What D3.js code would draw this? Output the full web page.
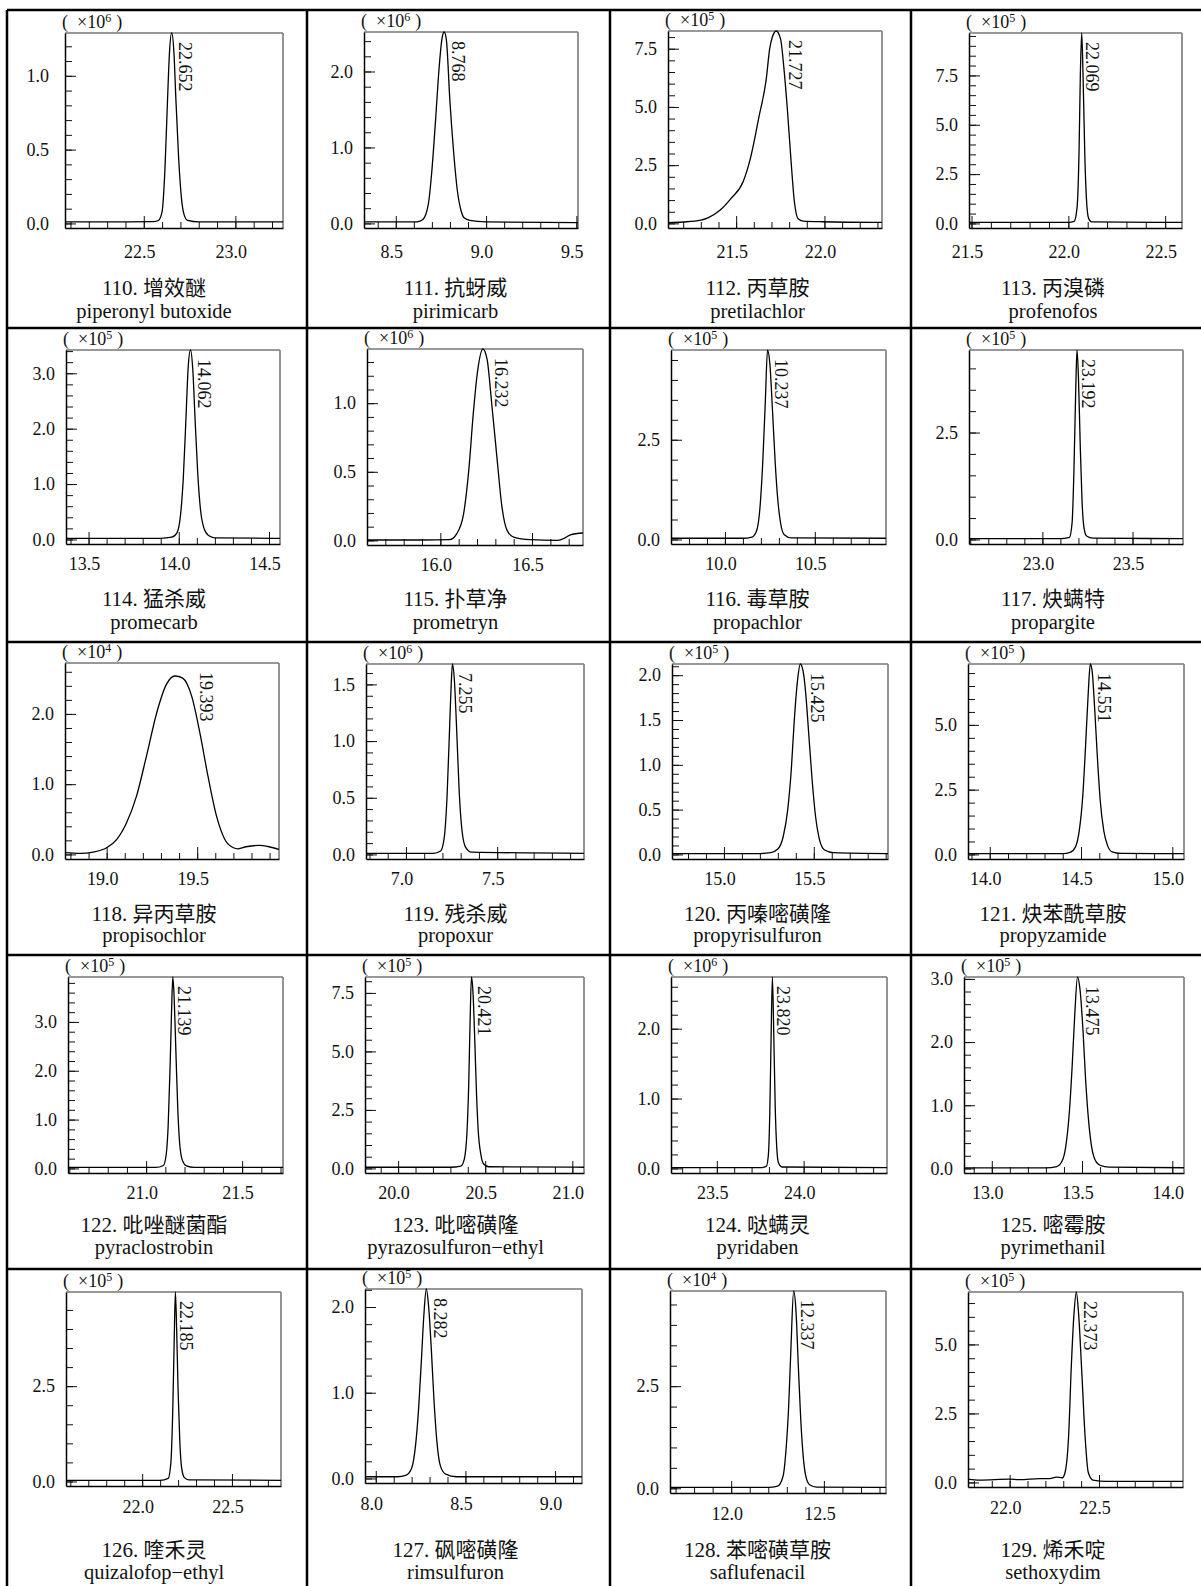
<!DOCTYPE html>
<html>
<head>
<meta charset="utf-8">
<script src="https://cdn.jsdelivr.net/npm/d3@7"></script>
<style>
  body { margin: 0; background: #fff; }
  svg { display: block; }
  text { font-family: "Liberation Serif", "Noto Sans CJK SC", serif; fill: #111; }
</style>
</head>
<body>
<svg id="chart" width="1201" height="1586"></svg>
<script>
// ---- data ----
const numbers = [110, 111, 112, 113, 114, 115, 116, 117, 118, 119,
                 120, 121, 122, 123, 124, 125, 126, 127, 128, 129];
const namesZh = ["增效醚", "抗蚜威", "丙草胺", "丙溴磷", "猛杀威", "扑草净", "毒草胺", "炔螨特",
                 "异丙草胺", "残杀威", "丙嗪嘧磺隆", "炔苯酰草胺", "吡唑醚菌酯", "吡嘧磺隆", "哒螨灵", "嘧霉胺",
                 "喹禾灵", "砜嘧磺隆", "苯嘧磺草胺", "烯禾啶"];
const namesEn = ["piperonyl butoxide", "pirimicarb", "pretilachlor", "profenofos", "promecarb", "prometryn",
                 "propachlor", "propargite", "propisochlor", "propoxur", "propyrisulfuron", "propyzamide",
                 "pyraclostrobin", "pyrazosulfuron\u2212ethyl", "pyridaben", "pyrimethanil",
                 "quizalofop\u2212ethyl", "rimsulfuron", "saflufenacil", "sethoxydim"];
const retention = ["22.652", "8.768", "21.727", "22.069", "14.062", "16.232", "10.237", "23.192", "19.393", "7.255",
                   "15.425", "14.551", "21.139", "20.421", "23.820", "13.475", "22.185", "8.282", "12.337", "22.373"];
const exponents = [6, 6, 5, 5, 5, 6, 5, 5, 4, 6, 5, 5, 5, 5, 6, 5, 5, 5, 4, 5];

// time axis ranges (min)
const xDomains = [[22.07, 23.26], [8.324, 9.509], [21.114, 22.326], [21.487, 22.587],
                  [13.375, 14.561], [15.6, 16.778], [9.70, 10.896], [22.593, 23.78],
                  [18.77, 19.952], [6.781, 7.976], [14.711, 15.913], [13.881, 15.064],
                  [20.593, 21.713], [19.81, 21.067], [23.236, 24.48], [12.846, 14.065],
                  [21.576, 22.773], [7.94, 9.15], [11.67, 12.835], [21.767, 22.97]];
// top of the intensity axis
const yTop = [1.29, 2.52, 8.26, 9.65, 3.42, 1.395, 4.75, 4.43, 2.725, 1.68,
              2.125, 7.35, 3.92, 8.18, 2.74, 3.03, 4.97, 2.21, 4.83, 6.9];
const yMajorStep = [0.5, 1, 2.5, 2.5, 1, 0.5, 2.5, 2.5, 1, 0.5, 0.5, 2.5, 1, 2.5, 1, 1, 2.5, 1, 2.5, 2.5];
const yMinorStep = [0.1, 0.2, 0.5, 0.5, 0.2, 0.1, 0.5, 0.5, 0.2, 0.1, 0.1, 0.5, 0.2, 0.5, 0.2, 0.2, 0.5, 0.2, 0.5, 0.5];

// chromatogram traces: retention time and signal (in units of the panel's 10^n)
const times = [
  [22.07, 22.3, 22.55, 22.58, 22.6, 22.615, 22.63, 22.64, 22.652, 22.665, 22.675, 22.69, 22.705, 22.72, 22.74, 22.8, 23.26],
  [8.324, 8.5, 8.62, 8.65, 8.68, 8.70, 8.72, 8.74, 8.755, 8.768, 8.78, 8.80, 8.82, 8.84, 8.86, 8.88, 8.91, 9.0, 9.509],
  [21.114, 21.2, 21.30, 21.34, 21.41, 21.47, 21.54, 21.58, 21.63, 21.67, 21.69, 21.705, 21.727, 21.752, 21.77, 21.79, 21.81, 21.83, 21.85, 21.88, 21.99, 22.326],
  [21.487, 22.0, 22.03, 22.045, 22.055, 22.062, 22.069, 22.076, 22.085, 22.095, 22.105, 22.12, 22.587],
  [13.375, 13.9, 13.96, 13.99, 14.01, 14.025, 14.04, 14.052, 14.065, 14.078, 14.09, 14.105, 14.12, 14.14, 14.165, 14.2, 14.561],
  [15.6, 15.9, 16.05, 16.09, 16.127, 16.155, 16.18, 16.2, 16.232, 16.255, 16.28, 16.31, 16.336, 16.364, 16.4, 16.49, 16.636, 16.67, 16.709, 16.778],
  [9.70, 10.1, 10.15, 10.175, 10.195, 10.21, 10.225, 10.237, 10.25, 10.265, 10.28, 10.295, 10.31, 10.33, 10.37, 10.896],
  [22.593, 23.1, 23.15, 23.165, 23.175, 23.185, 23.192, 23.2, 23.21, 23.22, 23.23, 23.245, 23.28, 23.78],
  [18.77, 18.853, 18.926, 19.0, 19.055, 19.11, 19.165, 19.22, 19.276, 19.33, 19.377, 19.42, 19.47, 19.515, 19.56, 19.607, 19.653, 19.7, 19.726, 19.77, 19.842, 19.897, 19.952],
  [6.781, 7.15, 7.19, 7.21, 7.225, 7.24, 7.248, 7.255, 7.265, 7.278, 7.292, 7.308, 7.328, 7.36, 7.976],
  [14.711, 15.2, 15.26, 15.30, 15.33, 15.355, 15.375, 15.39, 15.41, 15.425, 15.44, 15.455, 15.47, 15.49, 15.51, 15.53, 15.56, 15.61, 15.913],
  [13.881, 14.4, 14.44, 14.47, 14.49, 14.51, 14.525, 14.54, 14.551, 14.562, 14.575, 14.59, 14.605, 14.625, 14.645, 14.67, 14.72, 15.064],
  [20.593, 21.05, 21.09, 21.105, 21.115, 21.125, 21.133, 21.139, 21.146, 21.155, 21.165, 21.175, 21.19, 21.21, 21.25, 21.713],
  [19.81, 20.3, 20.36, 20.38, 20.395, 20.405, 20.413, 20.421, 20.43, 20.44, 20.45, 20.46, 20.475, 20.49, 20.52, 21.067],
  [23.236, 23.75, 23.785, 23.797, 23.805, 23.812, 23.82, 23.828, 23.836, 23.845, 23.855, 23.875, 24.48],
  [12.846, 13.3, 13.36, 13.39, 13.41, 13.43, 13.445, 13.46, 13.475, 13.49, 13.505, 13.52, 13.535, 13.55, 13.57, 13.6, 13.65, 14.065],
  [21.576, 22.1, 22.145, 22.16, 22.17, 22.178, 22.185, 22.192, 22.2, 22.21, 22.22, 22.235, 22.26, 22.773],
  [7.94, 8.12, 8.17, 8.2, 8.22, 8.24, 8.255, 8.268, 8.282, 8.295, 8.31, 8.325, 8.34, 8.36, 8.39, 8.45, 9.15],
  [11.67, 12.2, 12.25, 12.28, 12.295, 12.31, 12.322, 12.337, 12.35, 12.362, 12.375, 12.39, 12.405, 12.425, 12.46, 12.835],
  [21.767, 21.832, 22.0, 22.056, 22.168, 22.224, 22.261, 22.295, 22.31, 22.33, 22.345, 22.36, 22.373, 22.386, 22.404, 22.422, 22.44, 22.466, 22.541, 22.97]
];
const signals = [
  [0.01, 0.01, 0.012, 0.02, 0.08, 0.35, 0.85, 1.15, 1.29, 1.15, 0.85, 0.45, 0.18, 0.06, 0.02, 0.01, 0.01],
  [0.02, 0.02, 0.02, 0.05, 0.25, 0.7, 1.35, 2.05, 2.42, 2.52, 2.42, 1.6, 0.95, 0.45, 0.18, 0.07, 0.04, 0.02, 0.01],
  [0.03, 0.06, 0.14, 0.24, 0.57, 1.06, 1.8, 2.77, 4.6, 6.17, 7.5, 8.0, 8.26, 7.9, 6.7, 4.9, 2.77, 0.92, 0.21, 0.1, 0.07, 0.04],
  [0.05, 0.05, 0.1, 0.8, 3.5, 7.5, 9.65, 7.5, 3.5, 1.0, 0.25, 0.08, 0.05],
  [0.02, 0.02, 0.04, 0.12, 0.45, 1.1, 2.2, 3.1, 3.42, 3.05, 2.2, 1.2, 0.55, 0.2, 0.07, 0.03, 0.02],
  [0.003, 0.003, 0.006, 0.05, 0.195, 0.51, 0.93, 1.2, 1.395, 1.32, 1.0, 0.585, 0.244, 0.073, 0.024, 0.005, 0.0, 0.012, 0.04, 0.054],
  [0.03, 0.03, 0.06, 0.2, 0.8, 1.9, 3.5, 4.75, 4.4, 3.2, 1.9, 0.95, 0.4, 0.12, 0.04, 0.03],
  [0.02, 0.02, 0.05, 0.4, 1.6, 3.5, 4.43, 3.8, 2.2, 0.9, 0.3, 0.08, 0.03, 0.02],
  [0.024, 0.014, 0.033, 0.095, 0.21, 0.45, 0.83, 1.4, 2.01, 2.42, 2.54, 2.51, 2.25, 1.73, 1.11, 0.545, 0.213, 0.095, 0.08, 0.109, 0.128, 0.109, 0.071],
  [0.01, 0.01, 0.03, 0.15, 0.5, 1.15, 1.5, 1.68, 1.55, 1.1, 0.55, 0.2, 0.06, 0.02, 0.01],
  [0.01, 0.01, 0.02, 0.06, 0.2, 0.5, 0.95, 1.45, 1.95, 2.125, 2.05, 1.8, 1.4, 0.85, 0.42, 0.18, 0.05, 0.02, 0.01],
  [0.03, 0.03, 0.08, 0.3, 0.9, 2.3, 4.2, 6.3, 7.35, 7.0, 5.6, 3.7, 2.1, 0.9, 0.35, 0.1, 0.04, 0.03],
  [0.02, 0.02, 0.06, 0.3, 0.9, 2.1, 3.3, 3.92, 3.5, 2.4, 1.2, 0.5, 0.15, 0.05, 0.02, 0.02],
  [0.05, 0.05, 0.1, 0.4, 1.5, 3.5, 6.2, 8.18, 7.5, 5.5, 3.2, 1.6, 0.6, 0.2, 0.07, 0.05],
  [0.01, 0.01, 0.03, 0.2, 0.8, 1.8, 2.74, 1.9, 0.9, 0.3, 0.08, 0.02, 0.01],
  [0.01, 0.01, 0.03, 0.12, 0.35, 0.9, 1.6, 2.45, 3.03, 2.8, 2.2, 1.4, 0.8, 0.4, 0.15, 0.05, 0.02, 0.01],
  [0.03, 0.03, 0.08, 0.5, 1.8, 3.6, 4.97, 4.0, 2.4, 1.0, 0.35, 0.1, 0.04, 0.03],
  [0.02, 0.02, 0.04, 0.12, 0.35, 0.85, 1.4, 1.9, 2.21, 2.0, 1.5, 0.9, 0.45, 0.15, 0.05, 0.02, 0.02],
  [0.02, 0.02, 0.05, 0.3, 0.9, 2.0, 3.4, 4.83, 4.3, 3.0, 1.7, 0.7, 0.25, 0.08, 0.03, 0.02],
  [0.12, 0.085, 0.12, 0.1, 0.14, 0.14, 0.19, 0.17, 0.36, 1.68, 4.2, 6.1, 6.9, 6.1, 3.96, 1.68, 0.36, 0.085, 0.036, 0.036]
];

// ---- layout ----
const colX = [7, 307, 610, 911, 1201];
const rowY = [10, 328, 642, 955, 1269, 1586];
// plot box edges, relative to each cell's top-left corner
const boxLeft = [58, 57, 58, 58, 59, 60, 61, 58, 58, 59, 62, 57, 61, 58, 61, 53, 59, 58, 60, 57];
const boxRight = [276, 271, 272, 271, 273, 276, 276, 272, 272, 277, 278, 273, 276, 277, 277, 273, 274, 275, 276, 272];
const boxTop = [23, 22, 21, 23, 22, 21, 22, 22, 21, 22, 22, 22, 22, 22, 22, 22, 23, 20, 22, 23];
const boxBottom = [218, 218, 218, 218, 216, 217, 216, 216, 217, 217, 217, 217, 218, 218, 218, 218, 217, 214, 224, 218];
const xLabelPad = [17, 13, 13, 13, 14];
const titleBase = [285, 278, 279, 277, 288];
const nameBase = [308, 301, 300, 299, 310];

const svg = d3.select("#chart");
const eps = 1e-6;

// outer grid of the figure
const grid = svg.append("g").attr("stroke", "#000").attr("stroke-width", 2.5);
grid.append("line").attr("x1", colX[0]).attr("x2", 1201).attr("y1", rowY[0]).attr("y2", rowY[0]);
rowY.slice(1, 5).forEach(yy => {
    grid.append("line").attr("x1", colX[0]).attr("x2", 1201).attr("y1", yy).attr("y2", yy);
});
colX.slice(0, 4).forEach(xx => {
    grid.append("line").attr("x1", xx).attr("x2", xx).attr("y1", rowY[0]).attr("y2", 1586);
});

function stepValues(lo, hi, step) {
    const out = [];
    for (let k = Math.ceil(lo / step - eps); k <= Math.floor(hi / step + eps); k++) {
        out.push(+(k * step).toFixed(4));
    }
    return out;
}

numbers.forEach((num, i) => {
    const col = i % 4, row = Math.floor(i / 4);
    const cx = colX[col], cy = rowY[row];
    const x0 = cx + boxLeft[i], x1 = cx + boxRight[i];
    const y0 = cy + boxTop[i], y1 = cy + boxBottom[i];

    const x = d3.scaleLinear().domain(xDomains[i]).range([x0, x1]);
    const y = d3.scaleLinear().domain([-0.024 * yTop[i], yTop[i]]).range([y1, y0]);

    const g = svg.append("g").attr("class", "panel");

    // top and right edges of the frame
    g.append("line").attr("x1", x0).attr("x2", x1).attr("y1", y0).attr("y2", y0)
        .attr("stroke", "#333").attr("stroke-width", 1.2);
    g.append("line").attr("x1", x1).attr("x2", x1).attr("y1", y0).attr("y2", y1)
        .attr("stroke", "#888").attr("stroke-width", 1.8);

    // time axis
    const xMinor = stepValues(xDomains[i][0], xDomains[i][1], 0.1);
    const xMajor = stepValues(xDomains[i][0], xDomains[i][1], 0.5);
    g.append("g").attr("transform", `translate(0,${y1})`)
        .call(d3.axisBottom(x).tickValues(xMinor).tickSizeInner(-6).tickSizeOuter(0).tickFormat(""))
        .call(a => a.select(".domain").remove())
        .call(a => a.selectAll("line").attr("stroke", "#111"));
    const xa = g.append("g").attr("transform", `translate(0,${y1})`)
        .call(d3.axisBottom(x).tickValues(xMajor).tickSizeInner(-12).tickSizeOuter(0)
            .tickPadding(xLabelPad[row]).tickFormat(d3.format(".1f")));
    xa.select(".domain").attr("stroke", "#000").attr("stroke-width", 1.5);
    xa.selectAll("line").attr("stroke", "#111");
    xa.selectAll("text").attr("dx", -4.5).attr("font-size", 18)
        .style("font-family", "'Liberation Serif', serif").attr("fill", "#111");

    // intensity axis
    const yMinor = stepValues(0, yTop[i], yMinorStep[i]);
    const yMajor = stepValues(0, yTop[i], yMajorStep[i]);
    g.append("g").attr("transform", `translate(${x0},0)`)
        .call(d3.axisLeft(y).tickValues(yMinor).tickSizeInner(-7).tickSizeOuter(0).tickFormat(""))
        .call(a => a.select(".domain").remove())
        .call(a => a.selectAll("line").attr("stroke", "#111"));
    const ya = g.append("g").attr("transform", `translate(${x0},0)`)
        .call(d3.axisLeft(y).tickValues(yMajor).tickSizeInner(-11).tickSizeOuter(0)
            .tickPadding(i === 0 ? 16 : 11).tickFormat(d3.format(".1f")));
    ya.select(".domain").attr("stroke", "#000").attr("stroke-width", 1.5);
    ya.selectAll("line").attr("stroke", "#111");
    ya.selectAll("text").attr("font-size", 18)
        .style("font-family", "'Liberation Serif', serif").attr("fill", "#111");

    // scale factor label
    const sl = g.append("text").attr("x", x0 - 3).attr("y", y0 - 5).attr("font-size", 18);
    sl.append("tspan").text("(");
    sl.append("tspan").attr("dx", 9).text("\u00d710");
    sl.append("tspan").attr("font-size", 12).attr("dy", -6).text(exponents[i]);
    sl.append("tspan").attr("dx", 5).attr("dy", 6).text(")");

    // chromatogram trace
    const clipId = "clip" + i;
    svg.append("clipPath").attr("id", clipId).append("rect")
        .attr("x", x0).attr("y", y0 - 1).attr("width", x1 - x0).attr("height", y1 - y0 + 1);
    const pts = times[i].map((t, k) => [t, signals[i][k]]);
    const line = d3.line().x(d => x(d[0])).y(d => y(d[1])).curve(d3.curveMonotoneX);
    const path = g.append("path").datum(pts)
        .attr("d", line)
        .attr("fill", "none").attr("stroke", "#000").attr("stroke-width", 1.3)
        .attr("clip-path", `url(#${clipId})`);

    // retention time label, placed just right of the trace
    const ly = y0 + 9;
    const rt = g.append("text").attr("font-size", 18).text(retention[i]);
    const len = rt.node().getComputedTextLength();
    const node = path.node();
    const total = node.getTotalLength();
    let maxX = x(+retention[i]);
    for (let s = 0; s <= total; s += 0.5) {
        const p = node.getPointAtLength(s);
        if (p.y >= ly && p.y <= ly + len) maxX = Math.max(maxX, p.x);
    }
    rt.attr("transform", `translate(${maxX + 3},${ly}) rotate(90)`);

    // compound names
    const tx = (cx + colX[col + 1]) / 2 - 3;
    g.append("text").attr("x", tx).attr("y", cy + titleBase[row])
        .attr("text-anchor", "middle").attr("font-size", 21)
        .text(`${num}. ${namesZh[i]}`);
    g.append("text").attr("x", tx).attr("y", cy + nameBase[row])
        .attr("text-anchor", "middle").attr("font-size", 20.5)
        .text(namesEn[i]);
});
</script>
</body>
</html>
